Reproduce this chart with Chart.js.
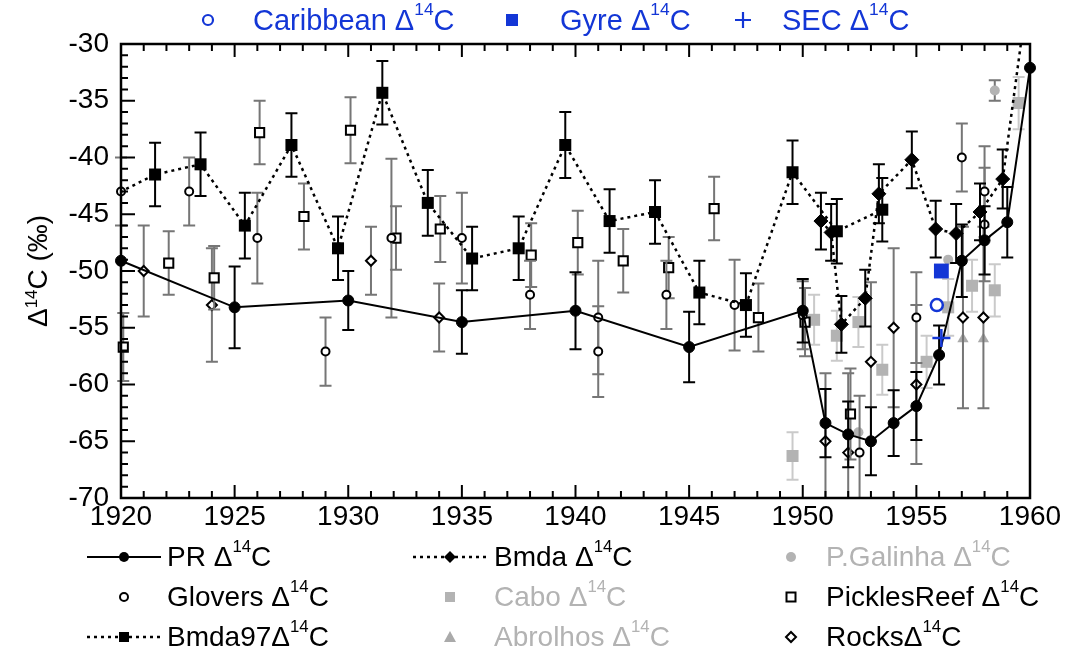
<!DOCTYPE html>
<html>
<head>
<meta charset="utf-8">
<script src="https://cdn.jsdelivr.net/npm/chart.js@4.4.1/dist/chart.umd.min.js"></script>
<style>
  body { margin: 0; background: #fff; }
  #wrap { position: relative; width: 1067px; height: 657px; font-family: "Liberation Sans", Arial, Helvetica, sans-serif; }
  #chart { position: absolute; left: 0; top: 0; }
  .item { position: absolute; height: 32px; display: flex; align-items: center; font-size: 28px; line-height: 1; white-space: nowrap; }
  .top { font-size: 29px; }
  .sup { font-size: 0.6em; position: relative; top: -0.6em; }
  .mark { position: absolute; }
  .gray { color: #b3b3b3; }
  .blue { color: #1336d6; }
  #ytitle { position: absolute; left: 38px; top: 271px; transform: translate(-50%, -50%) rotate(-90deg); font-size: 28px; white-space: nowrap; }
</style>
</head>
<body>
<div id="wrap">
  <canvas id="chart" width="1067" height="657"></canvas>

  <!-- legende du haut (bleu) -->
  <svg class="mark" style="left:201px; top:13px" width="14" height="14"><circle cx="7" cy="7" r="5" fill="none" stroke="#1336d6" stroke-width="2.2"/></svg>
  <div class="item top blue" style="left:253px; top:4px">Caribbean Δ<span class="sup">14</span>C</div>
  <svg class="mark" style="left:505px; top:13px" width="14" height="14"><rect x="1" y="1" width="12" height="12" fill="#1336d6"/></svg>
  <div class="item top blue" style="left:560px; top:4px">Gyre Δ<span class="sup">14</span>C</div>
  <svg class="mark" style="left:734px; top:11px" width="18" height="18"><path d="M9 1V17M1 9H17" stroke="#1336d6" stroke-width="2.2"/></svg>
  <div class="item top blue" style="left:782px; top:4px">SEC Δ<span class="sup">14</span>C</div>

  <!-- titre axe y -->
  <div id="ytitle">Δ<span class="sup">14</span>C (‰)</div>

  <!-- legende du bas, colonne 1 -->
  <svg class="mark" style="left:87px; top:547px" width="74" height="20"><line x1="0" y1="10" x2="74" y2="10" stroke="#000" stroke-width="2"/><circle cx="37" cy="10" r="5" fill="#000"/></svg>
  <div class="item" style="left:167px; top:541px">PR Δ<span class="sup">14</span>C</div>
  <svg class="mark" style="left:117px; top:587px" width="14" height="20"><circle cx="7" cy="10" r="4" fill="#fff" stroke="#000" stroke-width="2"/></svg>
  <div class="item" style="left:167px; top:581px">Glovers Δ<span class="sup">14</span>C</div>
  <svg class="mark" style="left:87px; top:627px" width="74" height="20"><line x1="0" y1="10" x2="74" y2="10" stroke="#000" stroke-width="2.5" stroke-dasharray="3 4"/><rect x="32" y="5" width="10" height="10" fill="#000"/></svg>
  <div class="item" style="left:167px; top:621px">Bmda97Δ<span class="sup">14</span>C</div>

  <!-- colonne 2 -->
  <svg class="mark" style="left:413px; top:547px" width="74" height="20"><line x1="0" y1="10" x2="74" y2="10" stroke="#000" stroke-width="2.5" stroke-dasharray="3 4"/><path d="M37 4L43 10L37 16L31 10Z" fill="#000"/></svg>
  <div class="item" style="left:494px; top:541px">Bmda Δ<span class="sup">14</span>C</div>
  <svg class="mark" style="left:443px; top:587px" width="14" height="20"><rect x="2" y="5" width="10" height="10" fill="#b3b3b3"/></svg>
  <div class="item gray" style="left:494px; top:581px">Cabo Δ<span class="sup">14</span>C</div>
  <svg class="mark" style="left:443px; top:627px" width="14" height="20"><path d="M7 4L13 15H1Z" fill="#aaa"/></svg>
  <div class="item gray" style="left:494px; top:621px">Abrolhos Δ<span class="sup">14</span>C</div>

  <!-- colonne 3 -->
  <svg class="mark" style="left:784px; top:547px" width="14" height="20"><circle cx="7" cy="10" r="5" fill="#b3b3b3"/></svg>
  <div class="item gray" style="left:826px; top:541px">P.Galinha Δ<span class="sup">14</span>C</div>
  <svg class="mark" style="left:784px; top:587px" width="14" height="20"><rect x="2.5" y="5.5" width="9" height="9" fill="#fff" stroke="#000" stroke-width="2"/></svg>
  <div class="item" style="left:826px; top:581px">PicklesReef Δ<span class="sup">14</span>C</div>
  <svg class="mark" style="left:784px; top:627px" width="14" height="20"><path d="M7 5L12 10L7 15L2 10Z" fill="#fff" stroke="#000" stroke-width="2"/></svg>
  <div class="item" style="left:826px; top:621px">RocksΔ<span class="sup">14</span>C</div>
</div>

<script>
// Donnees (annee, delta14C en permil, erreur +/-)
const prYears = [1920, 1925, 1930, 1935, 1940, 1945, 1950, 1951, 1952, 1953, 1954, 1955, 1956, 1957, 1958, 1959, 1960];
const prValues = [-49.1, -53.2, -52.6, -54.5, -53.5, -56.7, -53.5, -63.4, -64.4, -65.0, -63.4, -61.9, -57.4, -49.1, -47.3, -45.7, -32.1];
const prErrors = [0, 3.6, 2.6, 2.8, 3.4, 3.1, 2.8, 3.0, 2.9, 3.0, 2.9, 3.0, 2.6, 3.2, 3.0, 3.1, 0];

const bmda97Years = [1919.4, 1921.5, 1923.5, 1925.45, 1927.5, 1929.55, 1931.5, 1933.5, 1935.45, 1937.5, 1939.55, 1941.5, 1943.5, 1945.45, 1947.5, 1949.55, 1951.5, 1953.5];
const bmda97Values = [-43.6, -41.5, -40.6, -46.0, -38.9, -48.0, -34.3, -44.0, -48.9, -48.0, -38.9, -45.6, -44.8, -51.9, -53.0, -41.3, -46.5, -44.6];
const bmda97Errors = [0, 2.8, 2.8, 2.9, 2.8, 2.8, 2.8, 2.9, 2.8, 2.8, 2.9, 2.8, 2.8, 2.8, 2.8, 2.8, 2.85, 2.8];

const bmdaYears = [1950.8, 1951.25, 1951.7, 1952.75, 1953.35, 1954.8, 1955.85, 1956.75, 1957.8, 1958.8, 1960.0];
const bmdaValues = [-45.6, -46.6, -54.7, -52.4, -43.2, -40.2, -46.3, -46.7, -44.8, -41.9, -24.0];
const bmdaErrors = [2.5, 2.5, 2.5, 2.5, 2.6, 2.5, 2.5, 2.6, 2.5, 2.6, 0];

const gloversYears = [1920, 1923, 1926, 1929, 1931.9, 1935, 1938, 1941, 1941, 1944, 1947, 1950, 1952.5, 1955, 1957, 1958, 1958];
const gloversValues = [-43.0, -43.0, -47.1, -57.1, -47.1, -47.1, -52.1, -54.1, -57.1, -52.1, -53.0, -53.9, -66.0, -54.1, -40.0, -43.0, -45.9];
const gloversErrors = [3, 3, 4, 3, 7, 4, 3, 5, 4, 3, 4, 3, 5, 4, 3, 4, 5];

const picklesYears = [1920.1, 1922.1, 1924.1, 1926.1, 1928.05, 1930.1, 1932.1, 1934.05, 1938.05, 1940.1, 1942.1, 1944.1, 1946.1, 1948.05, 1950.1, 1952.1];
const picklesValues = [-56.7, -49.3, -50.6, -37.8, -45.2, -37.6, -47.1, -46.3, -48.6, -47.5, -49.1, -49.7, -44.5, -54.1, -54.5, -62.6];
const picklesErrors = [3, 2.8, 2.8, 2.8, 2.9, 2.9, 2.8, 2.9, 2.8, 2.8, 2.8, 2.7, 2.8, 3.0, 3.0, 4];

const rocksYears = [1921, 1924, 1931, 1934, 1951, 1952, 1953, 1954, 1955, 1957.05, 1957.95];
const rocksValues = [-50.0, -53.0, -49.1, -54.1, -65.0, -66.0, -58.0, -55.0, -60.0, -54.1, -54.1];
const rocksErrors = [4, 5, 3, 3, 6, 7, 7, 7, 7, 8, 8];

const caboYears = [1949.55, 1950.5, 1951.5, 1952.45, 1953.5, 1955.45, 1956.4, 1957.45, 1958.45, 1959.5];
const caboValues = [-66.3, -54.3, -55.7, -54.5, -58.7, -58.0, -53.2, -51.3, -51.7, -35.2];
const caboErrors = [2.1, 2.2, 2.2, 2.2, 2.2, 2.3, 2.5, 2.3, 2.3, 2.3];

const galinhaYears = [1952.45, 1956.4, 1958.45];
const galinhaValues = [-64.2, -49.0, -34.1];
const galinhaErrors = [0, 0, 0.9];

const abrolhosYears = [1957.05, 1957.95];
const abrolhosValues = [-56.0, -56.0];

const caribbeanYears = [1955.9];
const caribbeanValues = [-53.0];
const gyreYears = [1956.1];
const gyreValues = [-50.0];
const secYears = [1956.1];
const secValues = [-55.9];

const xTicks = [1920, 1925, 1930, 1935, 1940, 1945, 1950, 1955, 1960];
const yTicks = [-70, -65, -60, -55, -50, -45, -40, -35, -30];

const BLUE = '#1336d6';
const GRAY_BAR = '#767676';
const LIGHT = '#b3b3b3';

// transformer les tableaux en points {x, y}
function toPoints(years, values) {
    return years.map((x, i) => ({ x: x, y: values[i] }));
}

// marge de decoupage : les points sur les bords restent visibles
const edgeClip = { left: 10, right: 10, top: 0, bottom: 0 };

// Plugin pour dessiner les barres d'erreur avant chaque serie
const errorBars = {
    id: 'errorBars',
    beforeDatasetDraw(chart, args) {
        const ds = chart.data.datasets[args.index];
        if (!ds.errors) return;
        const xs = chart.scales.x, ys = chart.scales.y, ctx = chart.ctx, area = chart.chartArea;
        ctx.save();
        ctx.beginPath();
        ctx.rect(area.left - 10, area.top, area.right - area.left + 20, area.bottom - area.top);
        ctx.clip();
        ctx.strokeStyle = ds.errColor;
        ctx.lineWidth = 2;
        ds.data.forEach((p, i) => {
            const e = ds.errors[i];
            if (!e || p.x < xs.min || p.x > xs.max) return;
            const px = xs.getPixelForValue(p.x);
            const top = ys.getPixelForValue(p.y + e);
            const bot = ys.getPixelForValue(p.y - e);
            ctx.beginPath();
            ctx.moveTo(px, top); ctx.lineTo(px, bot);
            ctx.moveTo(px - 6, top); ctx.lineTo(px + 6, top);
            ctx.moveTo(px - 6, bot); ctx.lineTo(px + 6, bot);
            ctx.stroke();
        });
        ctx.restore();
    }
};

// Plugin pour le cadre et les graduations vers l'interieur
const frame = {
    id: 'frame',
    afterDatasetsDraw(chart) {
        const xs = chart.scales.x, ys = chart.scales.y, ctx = chart.ctx, a = chart.chartArea;
        ctx.save();
        ctx.strokeStyle = '#000';
        ctx.lineWidth = 2;
        ctx.beginPath();
        for (let yr = 1921; yr < 1960; yr++) {
            const px = xs.getPixelForValue(yr);
            const len = yr % 5 === 0 ? 13 : 7;
            ctx.moveTo(px, a.bottom); ctx.lineTo(px, a.bottom - len);
            ctx.moveTo(px, a.top); ctx.lineTo(px, a.top + len);
        }
        for (let v = -69; v < -30; v++) {
            const py = ys.getPixelForValue(v);
            const len = v % 5 === 0 ? 14 : 7;
            ctx.moveTo(a.left, py); ctx.lineTo(a.left + len, py);
        }
        ctx.stroke();
        ctx.lineWidth = 2.5;
        ctx.strokeRect(a.left, a.top, a.right - a.left, a.bottom - a.top);
        ctx.restore();
    }
};

const tickFont = { family: '"Liberation Sans", Arial, sans-serif', size: 28 };
const dotted = [3, 4];

let ctx = document.getElementById('chart').getContext('2d');
let myChart = new Chart(ctx, {
    type: 'scatter',
    data: {
        datasets: [
            { label: 'Gyre', data: toPoints(gyreYears, gyreValues), pointStyle: 'rect', pointRadius: 10.5,
              pointBackgroundColor: BLUE, pointBorderWidth: 0, clip: edgeClip },
            { label: 'Caribbean', data: toPoints(caribbeanYears, caribbeanValues), pointStyle: 'circle', pointRadius: 6,
              pointBackgroundColor: '#fff', pointBorderColor: BLUE, pointBorderWidth: 2.5, clip: edgeClip },
            { label: 'SEC', data: toPoints(secYears, secValues), pointStyle: 'cross', pointRadius: 9,
              pointBorderColor: BLUE, pointBorderWidth: 2.5, clip: edgeClip },
            { label: 'PR', data: toPoints(prYears, prValues), errors: prErrors, errColor: '#000',
              showLine: true, borderColor: '#000', borderWidth: 2, pointStyle: 'circle', pointRadius: 5.5,
              pointBackgroundColor: '#000', pointBorderColor: '#000', pointBorderWidth: 1, clip: edgeClip },
            { label: 'Bmda', data: toPoints(bmdaYears, bmdaValues), errors: bmdaErrors, errColor: '#000',
              showLine: true, borderColor: '#000', borderWidth: 2.5, borderDash: dotted, pointStyle: 'rectRot', pointRadius: 7,
              pointBackgroundColor: '#000', pointBorderColor: '#000', pointBorderWidth: 1, clip: edgeClip },
            { label: 'Bmda97', data: toPoints(bmda97Years, bmda97Values), errors: bmda97Errors, errColor: '#000',
              showLine: true, borderColor: '#000', borderWidth: 2.5, borderDash: dotted, pointStyle: 'rect', pointRadius: 8.5,
              pointBackgroundColor: '#000', pointBorderColor: '#000', pointBorderWidth: 0, clip: { left: 0, right: 0, top: 0, bottom: 0 } },
            { label: 'Glovers', data: toPoints(gloversYears, gloversValues), errors: gloversErrors, errColor: GRAY_BAR,
              pointStyle: 'circle', pointRadius: 4, pointBackgroundColor: '#fff', pointBorderColor: '#000', pointBorderWidth: 2, clip: edgeClip },
            { label: 'PicklesReef', data: toPoints(picklesYears, picklesValues), errors: picklesErrors, errColor: GRAY_BAR,
              pointStyle: 'rect', pointRadius: 6.5, pointBackgroundColor: '#fff', pointBorderColor: '#000', pointBorderWidth: 2, clip: edgeClip },
            { label: 'Rocks', data: toPoints(rocksYears, rocksValues), errors: rocksErrors, errColor: GRAY_BAR,
              pointStyle: 'rectRot', pointRadius: 5, pointBackgroundColor: '#fff', pointBorderColor: '#000', pointBorderWidth: 2, clip: edgeClip },
            { label: 'Cabo', data: toPoints(caboYears, caboValues), errors: caboErrors, errColor: '#cacaca',
              pointStyle: 'rect', pointRadius: 8.5, pointBackgroundColor: LIGHT, pointBorderWidth: 0, clip: edgeClip },
            { label: 'P.Galinha', data: toPoints(galinhaYears, galinhaValues), errors: galinhaErrors, errColor: GRAY_BAR,
              pointStyle: 'circle', pointRadius: 5, pointBackgroundColor: LIGHT, pointBorderWidth: 0, clip: edgeClip },
            { label: 'Abrolhos', data: toPoints(abrolhosYears, abrolhosValues),
              pointStyle: 'triangle', pointRadius: 6.5, pointBackgroundColor: '#aaa', pointBorderWidth: 0, clip: edgeClip }
        ]
    },
    options: {
        responsive: false,
        animation: false,
        devicePixelRatio: 1,
        layout: { padding: { top: 44, right: 37, left: 0, bottom: 0 } },
        plugins: { legend: { display: false }, tooltip: { enabled: false } },
        scales: {
            x: {
                type: 'linear', min: 1920, max: 1960,
                afterBuildTicks: (scale) => { scale.ticks = xTicks.map(v => ({ value: v })); },
                ticks: { font: tickFont, color: '#000', padding: 2, maxRotation: 0, callback: (v) => String(v) },
                grid: { display: false, drawTicks: false },
                border: { display: false },
                afterFit: (scale) => { scale.height = 159; }
            },
            y: {
                min: -70, max: -30,
                afterBuildTicks: (scale) => { scale.ticks = yTicks.map(v => ({ value: v })); },
                ticks: { font: tickFont, color: '#000', padding: 12, callback: (v) => String(v) },
                grid: { display: false, drawTicks: false },
                border: { display: false },
                afterFit: (scale) => { scale.width = 121; }
            }
        }
    },
    plugins: [errorBars, frame]
});
</script>
</body>
</html>
